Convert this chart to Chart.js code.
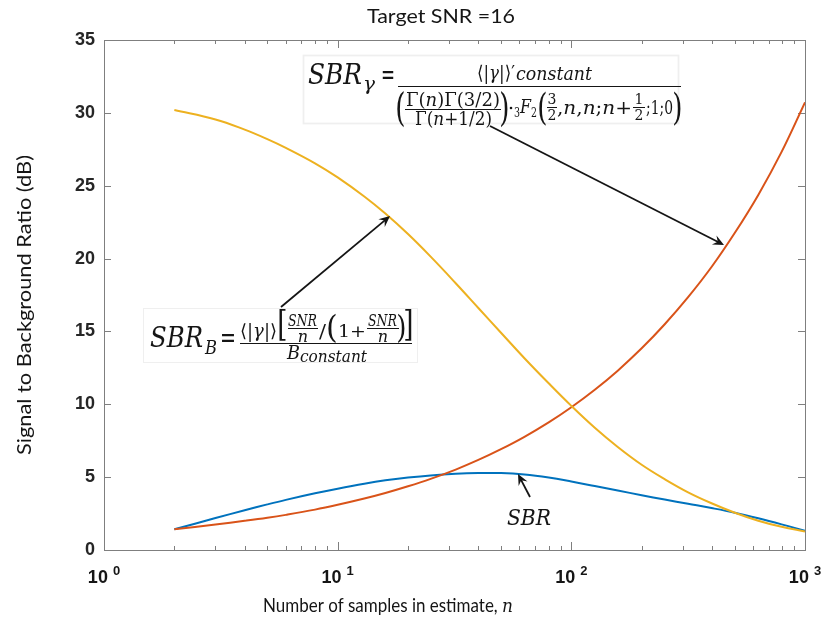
<!DOCTYPE html>
<html>
<head>
<meta charset="utf-8">
<script src="https://cdn.jsdelivr.net/npm/chart.js@4.4.1/dist/chart.umd.min.js"></script>
<style>
  html, body { margin: 0; padding: 0; background: #fff; }
</style>
</head>
<body>
<canvas id="chart-sbr" width="822" height="623"></canvas>
<script>
const samples = [2, 3, 4, 5, 6, 8, 10, 13, 16, 20, 25, 32, 40, 50, 63, 80, 100, 126, 158, 200, 251, 316, 398, 501, 631, 794, 1000];
const sbrB = [30.2, 29.55, 28.85, 28.2, 27.6, 26.54, 25.57, 24.26, 23.09, 21.68, 20.13, 18.31, 16.61, 14.91, 13.16, 11.44, 9.89, 8.39, 7.07, 5.85, 4.86, 3.96, 3.21, 2.56, 2.01, 1.59, 1.27];
const sbrGamma = [1.42, 1.75, 2.0, 2.21, 2.41, 2.77, 3.1, 3.53, 3.91, 4.37, 4.88, 5.52, 6.18, 6.92, 7.77, 8.76, 9.8, 11.0, 12.31, 13.84, 15.49, 17.35, 19.42, 21.77, 24.37, 27.32, 30.72];
const sbr = [1.42, 2.19, 2.73, 3.13, 3.44, 3.89, 4.21, 4.55, 4.78, 4.97, 5.12, 5.23, 5.28, 5.28, 5.18, 4.97, 4.7, 4.39, 4.08, 3.76, 3.46, 3.17, 2.88, 2.56, 2.18, 1.76, 1.31];
const xTickExponents = [0, 1, 2, 3];

const serif = "DejaVu Serif";
const ink = "#151515";

function toPoints(values) {
  return samples.map((n, i) => ({ x: n, y: values[i] }));
}

// draw text squeezed/stretched to a given width, left edge at x, baseline y
function fit(ctx, s, x, y, font, w) {
  ctx.font = font;
  const m = ctx.measureText(s).width;
  ctx.save();
  ctx.translate(x, y);
  ctx.scale(w / m, 1);
  ctx.fillText(s, 0, 0);
  ctx.restore();
}

// several pieces of text with own fonts, whole run fitted to width w
function run(ctx, parts, x, y, w) {
  let total = 0;
  const widths = parts.map((p) => {
    ctx.font = p[1];
    const m = ctx.measureText(p[0]).width;
    total += m;
    return m;
  });
  ctx.save();
  ctx.translate(x, y);
  ctx.scale(w ? w / total : 1, 1);
  let cx = 0;
  parts.forEach((p, i) => {
    ctx.font = p[1];
    ctx.fillText(p[0], cx, p[2] || 0);
    cx += widths[i];
  });
  ctx.restore();
}

// glyph stretched into a box (for tall brackets)
function glyphBox(ctx, s, x0, y0, x1, y1, font) {
  ctx.font = font;
  const m = ctx.measureText(s);
  const gw = m.actualBoundingBoxLeft + m.actualBoundingBoxRight;
  const gh = m.actualBoundingBoxAscent + m.actualBoundingBoxDescent;
  ctx.save();
  ctx.translate(x0, y0);
  ctx.scale((x1 - x0) / gw, (y1 - y0) / gh);
  ctx.fillText(s, m.actualBoundingBoxLeft, m.actualBoundingBoxAscent);
  ctx.restore();
}

function hbar(ctx, x0, x1, y, lw) {
  ctx.beginPath();
  ctx.lineWidth = lw || 1.2;
  ctx.moveTo(x0, y);
  ctx.lineTo(x1, y);
  ctx.stroke();
}

function arrow(ctx, x0, y0, x1, y1) {
  const a = Math.atan2(y1 - y0, x1 - x0);
  const len = 11, half = 5;
  ctx.beginPath();
  ctx.lineWidth = 1.8;
  ctx.moveTo(x0, y0);
  ctx.lineTo(x1 - Math.cos(a) * 6, y1 - Math.sin(a) * 6);
  ctx.stroke();
  ctx.beginPath();
  ctx.moveTo(x1, y1);
  ctx.lineTo(x1 - Math.cos(a) * len - Math.sin(a) * half, y1 - Math.sin(a) * len + Math.cos(a) * half);
  ctx.lineTo(x1 - Math.cos(a) * 7, y1 - Math.sin(a) * 7);
  ctx.lineTo(x1 - Math.cos(a) * len + Math.sin(a) * half, y1 - Math.sin(a) * len - Math.cos(a) * half);
  ctx.closePath();
  ctx.fill();
}

const framePlugin = {
  id: "frame",
  beforeDatasetsDraw(chart) {
    const { ctx, chartArea: a, scales } = chart;
    ctx.save();
    ctx.strokeStyle = "#7f7f7f";
    ctx.lineWidth = 1;
    ctx.strokeRect(a.left + 0.5, a.top + 0.5, a.right - a.left, a.bottom - a.top);
    ctx.beginPath();
    for (let e = 0; e < 3; e++) {
      for (let m = 1; m < 10; m++) {
        const px = Math.round(scales.x.getPixelForValue(m * Math.pow(10, e))) + 0.5;
        const l = m === 1 ? 8 : 4;
        ctx.moveTo(px, a.bottom);
        ctx.lineTo(px, a.bottom - l);
        ctx.moveTo(px, a.top);
        ctx.lineTo(px, a.top + l);
      }
    }
    scales.y.ticks.forEach((t) => {
      const py = Math.round(scales.y.getPixelForValue(t.value)) + 0.5;
      ctx.moveTo(a.left, py);
      ctx.lineTo(a.left + 7, py);
      ctx.moveTo(a.right, py);
      ctx.lineTo(a.right - 7, py);
    });
    ctx.stroke();
    ctx.restore();
  },
};

const textPlugin = {
  id: "texts",
  afterDraw(chart) {
    const { ctx, scales } = chart;
    ctx.save();
    ctx.fillStyle = ink;
    ctx.strokeStyle = ink;
    ctx.textBaseline = "alphabetic";
    ctx.textAlign = "left";

    // title
    fit(ctx, "Target SNR =16", 367, 23, "19px Lato", 148);

    // x tick labels 10^k
    xTickExponents.forEach((k) => {
      const px = scales.x.getPixelForValue(Math.pow(10, k));
      ctx.font = "bold 18px 'Liberation Sans'";
      const w1 = ctx.measureText("10").width;
      ctx.font = "bold 13px 'Liberation Sans'";
      const w2 = ctx.measureText(String(k)).width;
      const start = px - (w1 + 5 + w2) / 2;
      ctx.font = "bold 18px 'Liberation Sans'";
      ctx.fillText("10", start, 583);
      ctx.font = "bold 13px 'Liberation Sans'";
      ctx.fillText(String(k), start + w1 + 5, 575);
    });

    // axis titles
    run(ctx, [["Number of samples in estimate, ", "19px Lato"], ["n", "italic 19px " + serif]], 263, 612, 250);
    ctx.save();
    ctx.translate(31, 455);
    ctx.rotate(-Math.PI / 2);
    fit(ctx, "Signal to Background Ratio (dB)", 0, 0, "19px Lato", 300);
    ctx.restore();

    // annotation arrows
    arrow(ctx, 281, 307, 390, 216);
    arrow(ctx, 490, 126, 724, 245);
    arrow(ctx, 530, 497, 518, 474);

    // SBR label
    fit(ctx, "SBR", 507, 525, "italic 22px " + serif, 44);

    // formula for SBR_gamma
    ctx.fillStyle = "#fff";
    ctx.fillRect(303, 55, 375, 68);
    ctx.strokeStyle = "#efefef";
    ctx.strokeRect(303.5, 55.5, 375, 68);
    ctx.fillStyle = ink;
    ctx.strokeStyle = ink;
    const it = (s) => "italic " + s + "px " + serif;
    const rm = (s) => s + "px " + serif;
    fit(ctx, "SBR", 308, 84, it(27), 54);
    fit(ctx, "γ", 363, 90, it(19), 12);
    fit(ctx, "=", 381, 84, rm(27), 14);
    run(ctx, [["⟨|", rm(19)], ["γ", it(19)], ["|⟩′", rm(19)]], 477, 79, 38);
    fit(ctx, "constant", 516, 80, it(18), 76);
    hbar(ctx, 398, 681, 86.5);
    glyphBox(ctx, "(", 397, 91, 404, 128, rm(30));
    run(ctx, [["Γ(", rm(18)], ["n", it(18)], [")Γ(3/2)", rm(18)]], 406, 106, 94);
    hbar(ctx, 405, 501, 109.5, 1);
    run(ctx, [["Γ(", rm(18)], ["n", it(18)], ["+1/2)", rm(18)]], 415, 125, 77);
    glyphBox(ctx, ")", 501, 91, 508, 128, rm(30));
    ctx.beginPath();
    ctx.arc(511, 108, 1.3, 0, Math.PI * 2);
    ctx.fill();
    fit(ctx, "3", 514, 117, rm(12), 6);
    fit(ctx, "F", 520, 113, it(19), 11);
    fit(ctx, "2", 531, 117, rm(12), 6);
    glyphBox(ctx, "(", 539, 92, 546, 126, rm(30));
    ctx.textAlign = "center";
    ctx.font = rm(14);
    ctx.fillText("3", 552, 104);
    ctx.fillText("2", 552, 120);
    ctx.fillText("1", 639, 104);
    ctx.fillText("2", 639, 120);
    ctx.textAlign = "left";
    hbar(ctx, 547, 557, 107.5, 1);
    hbar(ctx, 633, 645, 107.5, 1);
    run(ctx, [[",", rm(18)], ["n", it(18)], [",", rm(18)], ["n", it(18)], [";", rm(18)], ["n", it(18)], ["+", rm(18)]], 557, 114, 75);
    run(ctx, [[";1;0", rm(18)]], 646, 114, 27);
    glyphBox(ctx, ")", 674, 92, 681, 126, rm(30));

    // formula for SBR_B
    ctx.fillStyle = "#fff";
    ctx.fillRect(143, 308, 274, 54);
    ctx.strokeStyle = "#efefef";
    ctx.strokeRect(143.5, 308.5, 274, 54);
    ctx.fillStyle = ink;
    ctx.strokeStyle = ink;
    fit(ctx, "SBR", 150, 347, it(27), 53);
    fit(ctx, "B", 205, 354, it(18), 12);
    fit(ctx, "=", 220, 347, rm(27), 16);
    hbar(ctx, 240, 412, 343.5);
    run(ctx, [["⟨|", rm(18)], ["γ", it(18)], ["|⟩", rm(18)]], 240, 337, 37);
    glyphBox(ctx, "[", 279, 311, 286, 342, rm(30));
    fit(ctx, "SNR", 288, 326, it(16), 29);
    hbar(ctx, 288, 318, 328.5, 1);
    ctx.textAlign = "center";
    ctx.font = it(16);
    ctx.fillText("n", 303, 341.5);
    ctx.fillText("n", 383, 341.5);
    ctx.textAlign = "left";
    fit(ctx, "/", 319, 338, rm(19), 7);
    glyphBox(ctx, "(", 328, 313, 336, 343, rm(30));
    fit(ctx, "1+", 338, 337, rm(17), 28);
    fit(ctx, "SNR", 368, 326, it(16), 29);
    hbar(ctx, 367, 399, 328.5, 1);
    glyphBox(ctx, ")", 398, 313, 405, 343, rm(30));
    glyphBox(ctx, "]", 405, 311, 412, 342, rm(30));
    fit(ctx, "B", 287, 359, it(19), 13);
    fit(ctx, "constant", 300, 362, it(17), 67);

    ctx.restore();
  },
};

new Chart(document.getElementById("chart-sbr"), {
  type: "line",
  data: {
    datasets: [
      {
        label: "SBR_B",
        data: toPoints(sbrB),
        borderColor: "#EDB120",
      },
      {
        label: "SBR_gamma",
        data: toPoints(sbrGamma),
        borderColor: "#D95319",
      },
      {
        label: "SBR",
        data: toPoints(sbr),
        borderColor: "#0072BD",
      },
    ],
  },
  options: {
    responsive: false,
    animation: false,
    layout: { padding: { left: 0, right: 17, top: 40, bottom: 0 } },
    elements: {
      point: { radius: 0 },
      line: { borderWidth: 2, tension: 0.4 },
    },
    plugins: {
      legend: { display: false },
      tooltip: { enabled: false },
    },
    scales: {
      x: {
        type: "logarithmic",
        min: 1,
        max: 1000,
        ticks: { display: false },
        grid: { display: false },
        border: { display: false },
        afterFit: (s) => {
          s.height = 73;
        },
      },
      y: {
        min: 0,
        max: 35,
        ticks: {
          stepSize: 5,
          padding: 9,
          color: "#262626",
          font: { family: "Liberation Sans", size: 18, weight: "bold" },
        },
        grid: { display: false, drawTicks: false },
        border: { display: false },
        afterFit: (s) => {
          s.width = 104;
        },
      },
    },
  },
  plugins: [framePlugin, textPlugin],
});
</script>
</body>
</html>
